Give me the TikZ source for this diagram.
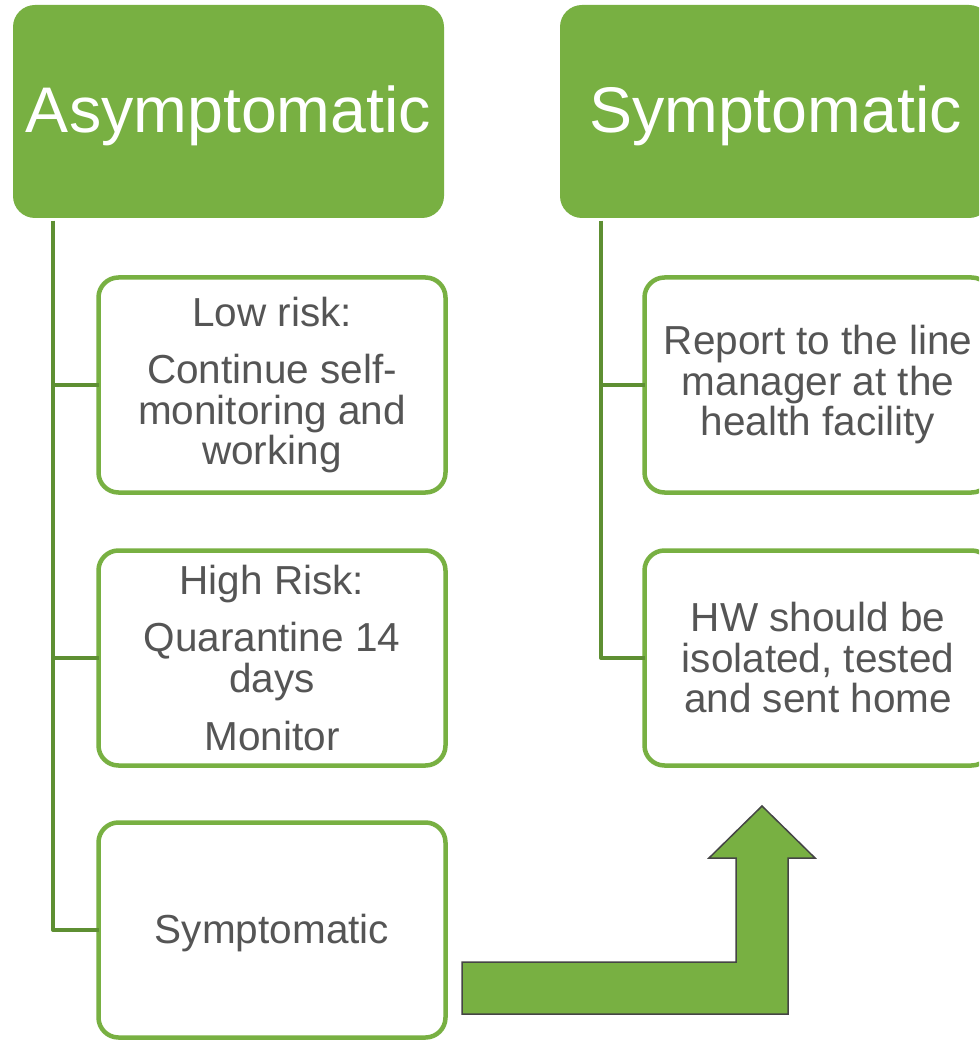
\documentclass[tikz,border=0pt]{standalone}
\usepackage{fontspec}
\setmainfont{Liberation Sans}
\definecolor{hdr}{HTML}{78B042}
\definecolor{conncol}{HTML}{5E8F32}
\definecolor{txt}{HTML}{555555}
\definecolor{arrline}{HTML}{454545}
\tikzset{
  header/.style={fill=hdr, draw=none, rounded corners=22pt, minimum width=431pt, minimum height=213pt,
    text=white, font=\fontsize{64.5}{74}\selectfont, inner sep=0pt, outer sep=0pt},
  itembox/.style={draw=hdr, line width=4.5pt, fill=white, rounded corners=20pt, minimum width=347pt,
    minimum height=215pt, text=txt, align=center, font=\fontsize{40.5}{40.5}\selectfont, inner sep=0pt, outer sep=0pt},
  conn/.style={draw=conncol, line width=4pt, line join=round},
  bentarrow/.style={fill=hdr, draw=arrline, line width=1.5pt, line join=miter}
}
\begin{document}
\begin{tikzpicture}[x=1pt,y=-1pt]
\path[use as bounding box, clip] (0,0) rectangle (979,1040);
\fill[white] (0,0) rectangle (979,1040);

% headers
\node[header] (asym) at (228.5,111.5) {\raisebox{-4.5pt}[\height][\depth]{Asymptomatic}};
\node[header] (sym) at (775.5,111.5) {\raisebox{-4.5pt}[\height][\depth]{Symptomatic}};

% left column boxes
\node[itembox] (low) at (272,385) {Low risk:\\[17pt]Continue self-\\monitoring and\\working};
\node[itembox] (high) at (272,658) {High Risk:\\[17pt]Quarantine 14\\days\\[18pt]Monitor};
\node[itembox] (lsym) at (272,930) {\raisebox{-3pt}[\height][\depth]{Symptomatic}};

% right column boxes
\node[itembox] (report) at (818,385) {Report to the line\\manager at the\\health facility};
\node[itembox] (hw) at (818,658) {HW should be\\isolated, tested\\and sent home};

% connectors
\coordinate (ltop) at (53,221);
\coordinate (rtop) at (601,221);
\draw[conn] (ltop) |- (low.west);
\draw[conn] (ltop) |- (high.west);
\draw[conn] (ltop) |- (lsym.west);
\draw[conn] (rtop) |- (report.west);
\draw[conn] (rtop) |- (hw.west);

% bent up arrow
\draw[bentarrow] (462,962) -- (736,962) -- (736,858) -- (709,858) -- (762,806) -- (815,858)
  -- (788,858) -- (788,1014) -- (462,1014) -- cycle;
\end{tikzpicture}
\end{document}
